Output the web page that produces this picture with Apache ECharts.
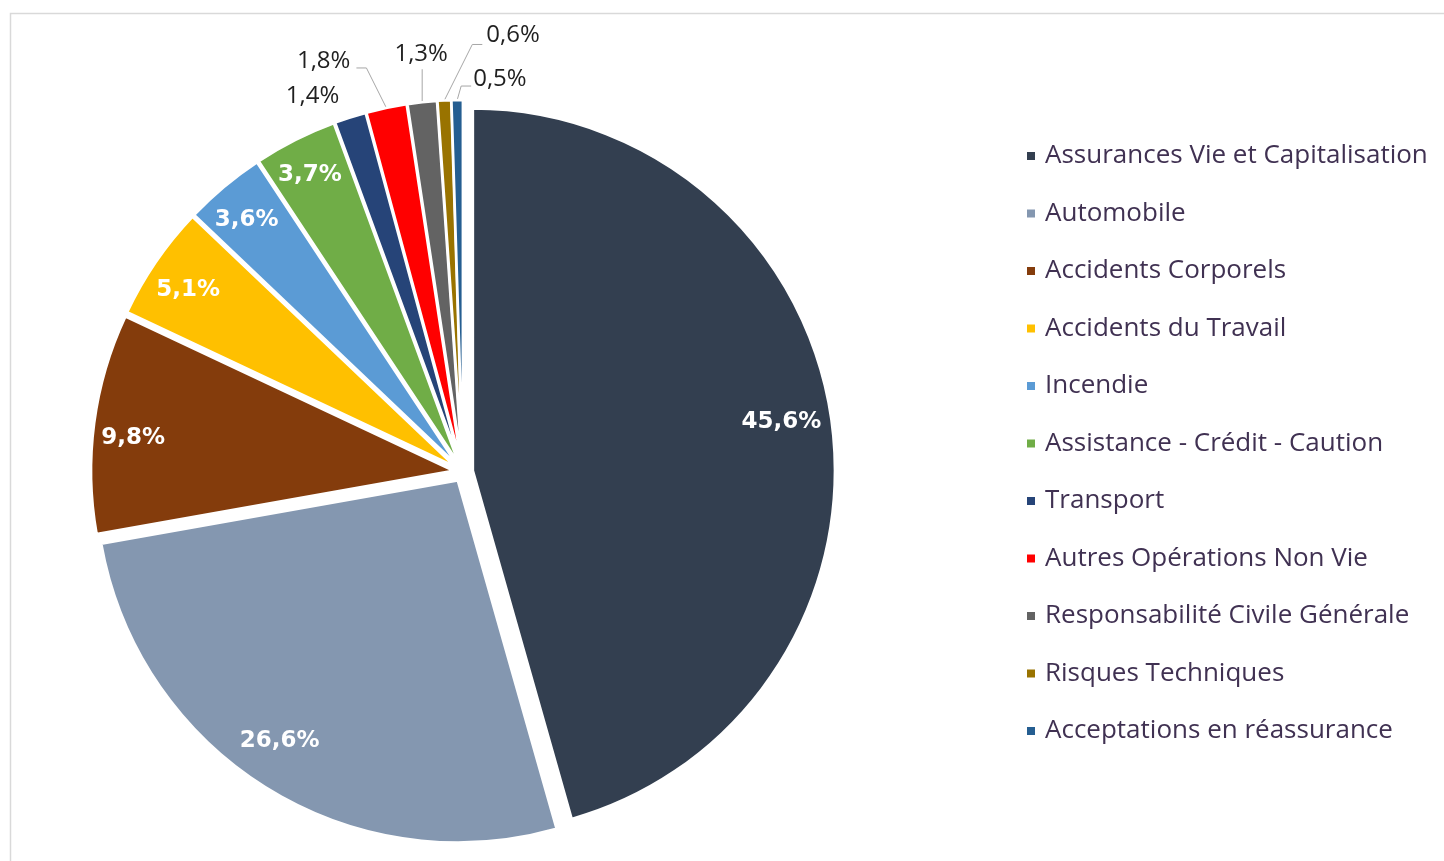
<!DOCTYPE html>
<html>
<head>
<meta charset="utf-8">
<script src="https://cdn.jsdelivr.net/npm/echarts@6/dist/echarts.min.js"></script>
<style>
  html, body { margin: 0; padding: 0; background: #fff; }
  #chart { width: 1444px; height: 861px; }
</style>
</head>
<body>
<div id="chart"></div>
<script>
// chart data
const categories = [
  'Assurances Vie et Capitalisation',
  'Automobile',
  'Accidents Corporels',
  'Accidents du Travail',
  'Incendie',
  'Assistance - Crédit - Caution',
  'Transport',
  'Autres Opérations Non Vie',
  'Responsabilité Civile Générale',
  'Risques Techniques',
  'Acceptations en réassurance'
]
const shares = [45.6, 26.6, 9.8, 5.1, 3.6, 3.7, 1.4, 1.8, 1.3, 0.6, 0.5]

const palette = ['#333f50', '#8497b0', '#843c0c', '#ffc000', '#5b9bd5', '#70ad47',
  '#264478', '#ff0000', '#636363', '#997300', '#255e91']

// where the small slices put their outside labels (relative to the slice edge)
const outsideSpots = {
  6: { bend: [0, 0], end: [0, 0], text: [-11, -21], align: 'right' },
  7: { bend: [-20, -40], end: [-30, -40], text: [-36, -47], align: 'right' },
  8: { bend: [0, -33], end: [0, -33], text: [-1, -48], align: 'center' },
  9: { bend: [28, -56], end: [38, -56], text: [42, -65], align: 'left' },
  10: { bend: [4, -14], end: [14, -14], text: [16, -21], align: 'left' }
}
// small nudges for the labels inside the big slices
const insideNudge = [[-9, -4], [-8, -11], [-2, 10], [-2, 5], [-4, 1], [-4, -2]]

const fmt = v => v.toFixed(1).replace('.', ',') + '%'
const center = [463, 472]
const radius = 362
const explode = 10

const chart = echarts.init(document.getElementById('chart'))

const option = {
  animation: false,
  color: palette,
  graphic: [{
    type: 'rect',
    silent: true,
    shape: { x: 10.5, y: 13.5, width: 1500, height: 900 },
    style: { fill: 'none', stroke: '#d9d9d9', lineWidth: 1.5 }
  }],
  legend: {
    orient: 'vertical',
    left: 1025,
    top: 143,
    padding: 0,
    icon: 'rect',
    itemWidth: 10,
    itemHeight: 10,
    itemGap: 31.5,
    data: categories,
    textStyle: {
      fontFamily: 'Open Sans',
      fontSize: 26,
      lineHeight: 26,
      color: '#403152',
      padding: [0, 0, 0, 4]
    }
  },
  series: [
    {
      type: 'pie',
      center: center,
      radius: radius,
      startAngle: 90,
      clockwise: true,
      selectedMode: 'multiple',
      selectedOffset: explode,
      avoidLabelOverlap: false,
      label: { show: false },
      labelLine: { show: false },
      itemStyle: { borderColor: '#fff', borderWidth: 2.5 },
      select: { itemStyle: { borderColor: '#fff', borderWidth: 2.5 } },
      emphasis: { disabled: true },
      data: categories.map((name, i) => ({ name: name, value: shares[i], selected: true }))
    },
    {
      // transparent ring carrying the labels
      type: 'pie',
      center: center,
      radius: [radius * 0.81, radius],
      startAngle: 90,
      clockwise: true,
      avoidLabelOverlap: false,
      silent: true,
      itemStyle: { color: 'transparent', borderWidth: 0 },
      emphasis: { disabled: true },
      labelLine: { show: true, length: 10, length2: 10, lineStyle: { color: '#a6a6a6', width: 1 } },
      labelLayout: function (params) {
        const nudge = insideNudge[params.dataIndex]
        if (nudge) return { dx: nudge[0], dy: nudge[1] }
        const spot = outsideSpots[params.dataIndex]
        if (!spot || !params.labelLinePoints) return {}
        const p = params.labelLinePoints[0]
        const dx = p[0] - center[0]
        const dy = p[1] - center[1]
        const len = Math.sqrt(dx * dx + dy * dy)
        // start on the exploded slice edge
        const s = [p[0] + explode * dx / len, p[1] + explode * dy / len]
        return {
          x: s[0] + spot.text[0],
          y: s[1] + spot.text[1],
          align: spot.align,
          verticalAlign: 'middle',
          labelLinePoints: [
            [s[0], s[1]],
            [s[0] + spot.bend[0], s[1] + spot.bend[1]],
            [s[0] + spot.end[0], s[1] + spot.end[1]]
          ]
        }
      },
      data: categories.map((name, i) => {
        const inside = i < 6
        return {
          name: name,
          value: shares[i],
          label: inside
            ? { show: true, position: 'inside', formatter: p => fmt(p.value),
                color: '#fff', fontFamily: 'DejaVu Sans', fontWeight: 'bold', fontSize: 23 }
            : { show: true, position: 'outside', formatter: p => fmt(p.value),
                color: '#1f1f1f', fontFamily: 'Open Sans', fontSize: 24 },
          labelLine: { show: !inside }
        }
      })
    }
  ]
}

chart.setOption(option)
</script>
</body>
</html>
